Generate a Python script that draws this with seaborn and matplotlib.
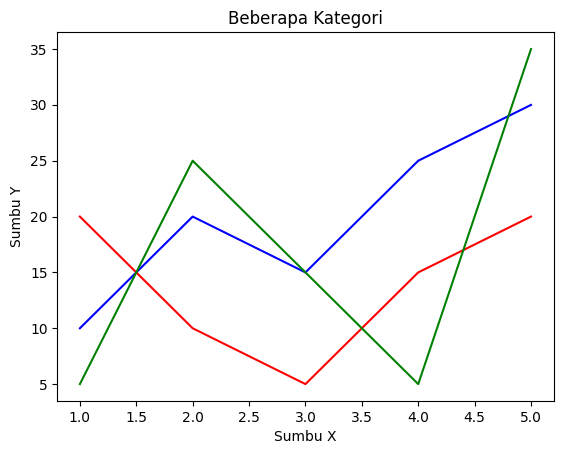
import pandas as pd
import seaborn as sns
import matplotlib.pyplot as plt

x_vals = [1, 2, 3, 4, 5]
blue_vals = [10, 20, 15, 25, 30]
red_vals = [20, 10, 5, 15, 20]
green_vals = [5, 25, 15, 5, 35]

df = pd.DataFrame({'x': x_vals, 'biru': blue_vals, 'merah': red_vals, 'hijau': green_vals})

fig, ax = plt.subplots(figsize=(5.62, 4.55), dpi=100)
fig.subplots_adjust(left=0.102, right=0.985, top=0.929, bottom=0.119)

sns.lineplot(data=df, x='x', y='biru', color='blue', ax=ax)
sns.lineplot(data=df, x='x', y='merah', color='red', ax=ax)
sns.lineplot(data=df, x='x', y='hijau', color='green', ax=ax)

ax.set_title("Beberapa Kategori")
ax.set_xlabel("Sumbu X")
ax.set_ylabel("Sumbu Y")

plt.savefig("out.png")
plt.close()
